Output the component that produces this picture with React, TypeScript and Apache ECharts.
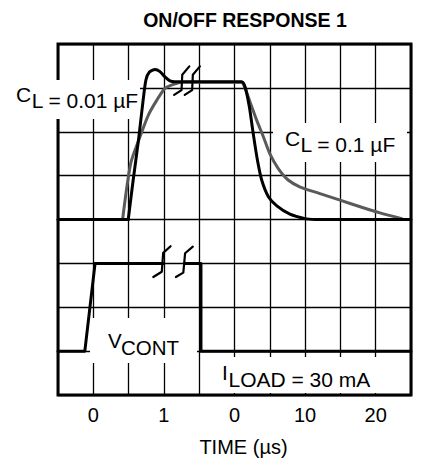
import React, { useEffect, useRef } from "react";
import * as echarts from "echarts";

// x axis: 10 divisions, labels at every other grid line (two time scales)
const xTickLabels = ["", "0", "", "1", "", "0", "", "10", "", "20", ""];

// Output response, C_L = 0.01 µF (black)
const blackBaseLeft: [number, number][] = [[0, 4], [1.99, 4]];
const blackPulse: [number, number][] = [
  [1.99, 4], [2.13, 4.9], [2.28, 5.81], [2.4, 6.64], [2.49, 7.18],
  [2.59, 7.36], [2.75, 7.42], [2.89, 7.37], [3.03, 7.25], [3.17, 7.16],
  [3.31, 7.14], [5.2, 7.14], [5.3, 7.02], [5.42, 6.57], [5.53, 5.96],
  [5.65, 5.35], [5.77, 4.9], [5.96, 4.52], [6.2, 4.31], [6.57, 4.12],
  [7.0, 4.02], [7.3, 4],
];
const blackBaseRight: [number, number][] = [[7.3, 4], [10, 4]];

// Output response, C_L = 0.1 µF (grey)
const grayBase: [number, number][] = [[0, 4], [1.83, 4]];
const grayPulse: [number, number][] = [
  [1.83, 4], [2.06, 5.28], [2.32, 5.88], [2.56, 6.38], [2.8, 6.72],
  [3.03, 6.99], [3.27, 7.08], [3.5, 7.13], [5.2, 7.13], [5.27, 7.05],
  [5.44, 6.68], [5.63, 6.26], [5.82, 5.88], [6.0, 5.5], [6.24, 5.16],
  [6.52, 4.9], [6.86, 4.74], [7.42, 4.59], [7.99, 4.44], [8.56, 4.29],
  [9.12, 4.15], [9.74, 4.02],
];

// Control voltage V_CONT (black), broken at the time-scale change
const vContLeft: [number, number][] = [[0, 1], [0.76, 1], [1.05, 3], [2.98, 3]];
const vContRight: [number, number][] = [[3.58, 3], [4.05, 3], [4.05, 1], [10, 1]];

// Scale-break symbols
const breakTop1: [number, number][] = [[3.29, 6.84], [3.5, 6.95], [3.52, 7.3], [3.72, 7.49]];
const breakTop2: [number, number][] = [[3.59, 6.84], [3.8, 6.95], [3.82, 7.3], [4.02, 7.49]];
const breakV1: [number, number][] = [[2.7, 2.69], [2.94, 2.81], [2.98, 3.24], [3.19, 3.39]];
const breakV2: [number, number][] = [[3.34, 2.69], [3.55, 2.79], [3.6, 3.23], [3.82, 3.38]];

const FONT = "'Liberation Sans', Arial, Helvetica, sans-serif";

export default function App() {
  const ref = useRef<HTMLDivElement>(null);
  useEffect(() => {
    if (!ref.current) return;
    const chart = echarts.init(ref.current, null, { renderer: "svg" });
    const line = (data: any[], color: string, width: number, z: number, smooth: number | boolean = false) => ({
      type: "line",
      data,
      symbol: "none",
      smooth,
      silent: true,
      z,
      lineStyle: { color, width, join: "round", cap: "round" },
    });
    const txt = (text: string, x: number, y: number, size = 21, extra: any = {}) => ({
      type: "text",
      z: 20,
      style: {
        text,
        x,
        y,
        fill: "#000",
        fontFamily: FONT,
        fontSize: size,
        verticalAlign: "middle",
        align: "left",
        ...extra,
      },
    });
    const box = (x: number, y: number, w: number, h: number) => ({
      type: "rect",
      z: 5,
      shape: { x, y, width: w, height: h },
      style: { fill: "#fff" },
    });
    chart.setOption({
      animation: false,
      backgroundColor: "#fff",
      grid: {
        left: 58,
        top: 44,
        width: 353,
        height: 351,
        show: true,
        borderColor: "#000",
        borderWidth: 3,
        backgroundColor: "transparent",
      },
      xAxis: {
        type: "value",
        min: 0,
        max: 10,
        interval: 1,
        axisLine: { show: false },
        axisTick: { show: false },
        splitLine: { show: true, lineStyle: { color: "#000", width: 1.3 } },
        axisLabel: {
          show: true,
          margin: 10,
          color: "#000",
          fontFamily: FONT,
          fontSize: 20,
          formatter: (v: number) => xTickLabels[Math.round(v)] ?? "",
        },
        name: "TIME (µs)",
        nameLocation: "middle",
        nameGap: 42,
        nameTextStyle: { color: "#000", fontFamily: FONT, fontSize: 20, padding: [0, 0, 0, 18] },
      },
      yAxis: {
        type: "value",
        min: 0,
        max: 8,
        interval: 1,
        axisLine: { show: false },
        axisTick: { show: false },
        axisLabel: { show: false },
        splitLine: { show: true, lineStyle: { color: "#000", width: 1.3 } },
      },
      series: [
        line(grayBase, "#5a5a5a", 3, 10),
        line(grayPulse, "#5a5a5a", 3, 10, 0.25),
        line(blackBaseLeft, "#000", 3, 11),
        line(blackPulse, "#000", 3, 11, 0.25),
        line(blackBaseRight, "#000", 3, 11),
        line(vContLeft, "#000", 3, 11),
        line(vContRight, "#000", 3, 11),
        line(breakTop1, "#000", 2.2, 12),
        line(breakTop2, "#000", 2.2, 12),
        line(breakV1, "#000", 2.2, 12),
        line(breakV2, "#000", 2.2, 12),
      ],
      graphic: [
        box(0, 80, 140, 39),
        box(273, 123, 134, 39),
        box(90, 318, 107, 45),
        box(215, 357, 193, 36),
        txt("ON/OFF RESPONSE 1", 245, 20, 19.5, { align: "center", fontWeight: "bold" }),
        txt("C", 16, 94.2),
        txt("L = 0.01 µF", 31.7, 100.7),
        txt("C", 285, 138.3),
        txt("L = 0.1 µF", 300.5, 144.7),
        txt("V", 108, 340.7, 20.5),
        txt("CONT", 121, 347.5, 20.5),
        txt("I", 222, 372.5),
        txt("LOAD = 30 mA", 228.5, 379.5),
      ],
    });
    return () => chart.dispose();
  }, []);
  return <div ref={ref} style={{ position: "fixed", left: 0, top: 0, width: 426, height: 465 }} />;
}
